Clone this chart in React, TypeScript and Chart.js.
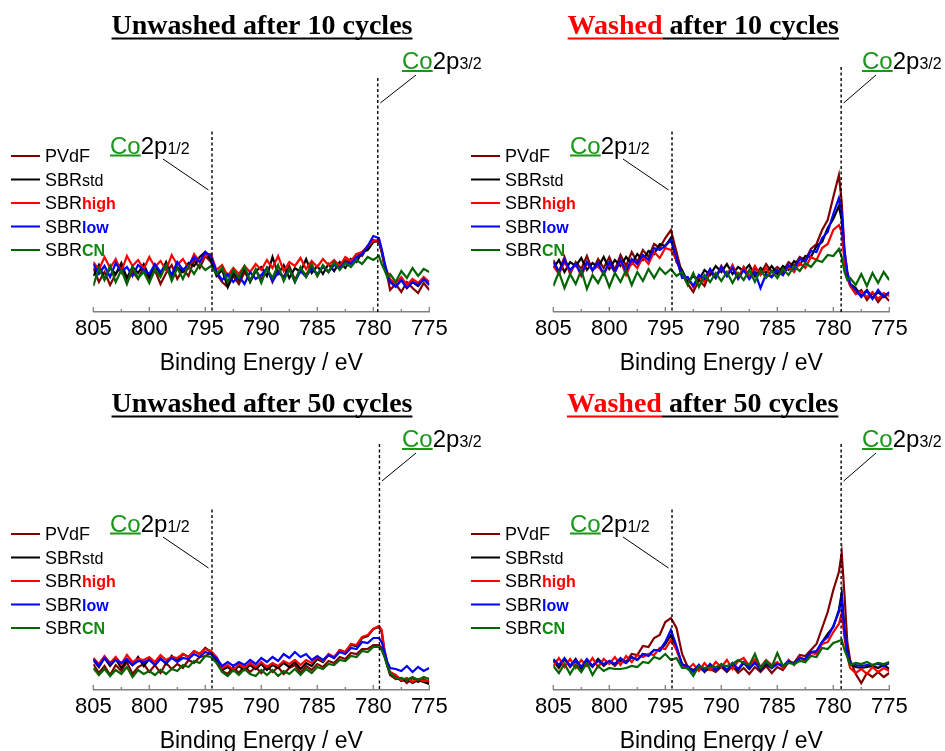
import React, { useEffect, useRef } from 'react';
import { Chart, registerables } from 'chart.js';

Chart.register(...registerables);

// ---------- data ----------
const ENERGY = [
  805, 804.5, 804, 803.5, 803, 802.5, 802, 801.5, 801, 800.5,
  800, 799.5, 799, 798.5, 798, 797.5, 797, 796.5, 796, 795.5,
  795, 794.5, 794, 793.5, 793, 792.5, 792, 791.5, 791, 790.5,
  790, 789.5, 789, 788.5, 788, 787.5, 787, 786.5, 786, 785.5,
  785, 784.5, 784, 783.5, 783, 782.5, 782, 781.5, 781, 780.5,
  780, 779.5, 779.25, 779, 778.75, 778.5, 778, 777.5, 777, 776.5, 776, 775.5, 775,
];

const X_TICKS = [805, 800, 795, 790, 785, 780, 775];
const TICK_MARKS = [805, 802.5, 800, 797.5, 795, 792.5, 790, 787.5, 785, 782.5, 780, 777.5, 775];

const SERIES_NAMES = ['PVdF', 'SBRstd', 'SBRhigh', 'SBRlow', 'SBRCN'];
const LEGEND_MAIN = ['PVdF', 'SBR', 'SBR', 'SBR', 'SBR'];
const LEGEND_SUFFIX = ['', 'std', 'high', 'low', 'CN'];

// Unwashed after 10 cycles
const TL_PVDF = [
  44, 30, 40, 27, 38, 46, 29, 41, 33, 45,
  31, 42, 28, 39, 47, 33, 43, 36, 52, 44,
  56, 50, 38, 30, 25, 36, 28, 40, 31, 42,
  33, 44, 30, 41, 35, 46, 32, 43, 37, 47,
  36, 46, 40, 50, 44, 52, 49, 58, 56, 66,
  72, 70, 60, 48, 36, 22, 28, 20, 30, 24, 19, 29, 22,
];
const TL_STD = [
  36, 47, 33, 44, 38, 49, 34, 45, 39, 48,
  35, 46, 38, 50, 36, 45, 40, 49, 46, 55,
  60, 52, 36, 42, 25, 39, 32, 44, 30, 41,
  45, 36, 55, 38, 47, 34, 44, 40, 53, 39,
  46, 38, 48, 41, 50, 44, 53, 50, 60, 62,
  70, 71, 60, 46, 38, 31, 26, 32, 24, 30, 26, 33, 27,
];
const TL_HIGH = [
  50, 42, 55, 44, 53, 40, 56, 46, 52, 43,
  55, 45, 51, 42, 57, 47, 53, 44, 58, 50,
  56, 58, 42, 47, 36, 44, 38, 46, 40, 48,
  42, 52, 44, 56, 41, 50, 46, 54, 43, 51,
  45, 53, 47, 52, 46, 55, 51, 58, 60, 66,
  71, 72, 62, 48, 40, 33, 28, 35, 27, 33, 29, 35, 30,
];
const TL_LOW = [
  48, 38, 46, 35, 49, 40, 45, 36, 47, 42,
  38, 48, 40, 46, 37, 50, 42, 47, 55, 50,
  60, 56, 40, 32, 38, 30, 36, 28, 40, 33,
  37, 44, 31, 40, 34, 43, 30, 41, 35, 44,
  38, 45, 40, 47, 44, 50, 48, 55, 58, 66,
  76, 74, 63, 50, 38, 30, 25, 32, 24, 30, 27, 33, 28,
];
const TL_CN = [
  26, 44, 32, 46, 30, 42, 28, 45, 34, 40,
  29, 43, 35, 47, 31, 44, 33, 46, 38, 48,
  42, 46, 38, 44, 30, 42, 34, 46, 31, 43,
  29, 44, 34, 47, 31, 43, 30, 45, 35, 48,
  36, 47, 40, 50, 42, 49, 45, 52, 48, 55,
  52, 56, 48, 42, 35, 38, 30, 41, 34, 44, 36, 43, 40,
];

// Washed after 10 cycles
const TR_PVDF = [
  52, 40, 55, 38, 50, 43, 56, 41, 53, 44,
  55, 42, 57, 46, 60, 50, 62, 55, 68, 64,
  74, 82, 60, 38, 28, 20, 32, 26, 40, 34,
  46, 36, 47, 34, 45, 35, 44, 38, 48, 40,
  45, 40, 50, 46, 55, 52, 63, 68, 82, 92,
  115, 137, 110, 62, 40, 28, 18, 22, 12, 19, 10, 17, 11,
];
const TR_STD = [
  44, 52, 40, 50, 46, 54, 42, 49, 45, 55,
  43, 52, 46, 55, 48, 58, 52, 61, 58, 68,
  66, 74, 50, 42, 30, 36, 32, 42, 37, 46,
  40, 48, 38, 45, 41, 47, 36, 44, 39, 46,
  38, 46, 42, 51, 47, 56, 55, 66, 70, 84,
  93, 106, 92, 56, 36, 28, 24, 16, 22, 14, 20, 15, 19,
];
const TR_HIGH = [
  46, 38, 50, 40, 48, 36, 49, 42, 46, 38,
  48, 40, 51, 37, 50, 44, 55, 48, 60, 54,
  64, 62, 52, 36, 34, 25, 36, 30, 42, 36,
  44, 36, 46, 34, 45, 36, 46, 37, 44, 35,
  42, 37, 45, 40, 49, 44, 55, 52, 64, 68,
  82, 87, 80, 50, 34, 26, 18, 20, 15, 20, 13, 19, 16,
];
const TR_LOW = [
  50, 40, 52, 42, 48, 38, 50, 42, 49, 38,
  50, 40, 52, 41, 53, 48, 57, 52, 64, 62,
  66, 72, 54, 34, 35, 26, 37, 33, 43, 34,
  45, 36, 44, 33, 42, 33, 40, 24, 38, 35,
  42, 37, 47, 43, 53, 50, 61, 60, 74, 80,
  98, 114, 100, 60, 40, 28, 22, 15, 21, 13, 22, 15, 20,
];
const TR_CN = [
  26, 40, 24, 38, 28, 42, 23, 37, 29, 40,
  25, 39, 30, 42, 27, 40, 31, 43, 34, 44,
  38, 43, 36, 40, 27, 39, 25, 37, 30, 39,
  31, 40, 29, 39, 32, 42, 30, 42, 34, 41,
  34, 43, 37, 46, 41, 49, 45, 52, 50, 57,
  56, 63, 55, 40, 32, 34, 27, 38, 26, 39, 29, 40, 32,
];

// Unwashed after 50 cycles
const BL_PVDF = [
  26, 17, 24, 15, 25, 19, 28, 16, 23, 26,
  18, 25, 17, 27, 21, 26, 22, 30, 27, 33,
  34, 37, 28, 19, 16, 23, 17, 24, 18, 23,
  17, 24, 18, 23, 16, 22, 25, 17, 24, 20,
  26, 23, 29, 27, 33, 31, 37, 36, 41, 41,
  45, 45, 42, 34, 24, 15, 11, 12, 7, 12, 8, 11, 7,
];
const BL_STD = [
  30, 23, 32, 24, 31, 22, 30, 25, 33, 24,
  31, 25, 32, 26, 34, 29, 36, 33, 39, 36,
  42, 38, 30, 20, 23, 19, 24, 20, 25, 21,
  26, 20, 25, 22, 27, 23, 28, 21, 27, 24,
  31, 28, 35, 32, 40, 38, 45, 44, 52, 54,
  61, 63, 58, 38, 26, 16, 14, 9, 11, 7, 10, 8, 6,
];
const BL_HIGH = [
  32, 26, 34, 27, 33, 26, 35, 28, 31, 30,
  33, 28, 35, 30, 33, 32, 36, 33, 39, 36,
  41, 39, 33, 22, 25, 20, 26, 22, 27, 23,
  28, 23, 27, 24, 29, 26, 30, 25, 30, 27,
  33, 29, 36, 33, 40, 38, 46, 45, 53, 55,
  61, 64, 60, 40, 27, 18, 15, 10, 12, 8, 11, 9, 10,
];
const BL_LOW = [
  31, 24, 32, 26, 30, 27, 31, 25, 29, 28,
  30, 25, 31, 27, 32, 28, 32, 31, 36, 33,
  38, 36, 32, 24, 28, 24, 28, 25, 30, 26,
  32, 28, 33, 29, 36, 32, 38, 33, 36, 30,
  34, 30, 35, 32, 38, 36, 42, 41, 48, 47,
  52, 52, 48, 38, 28, 22, 21, 19, 24, 18, 23, 19, 22,
];
const BL_CN = [
  22, 15, 21, 14, 20, 16, 23, 13, 20, 16,
  19, 15, 20, 16, 21, 19, 25, 23, 29, 27,
  34, 33, 27, 18, 14, 20, 15, 21, 16, 14,
  20, 15, 20, 14, 19, 16, 21, 15, 21, 17,
  23, 21, 26, 25, 30, 29, 34, 33, 39, 38,
  43, 43, 40, 33, 24, 17, 12, 12, 10, 13, 10, 13, 11,
];

// Washed after 50 cycles
const BR_PVDF = [
  29, 22, 31, 23, 29, 21, 28, 23, 30, 24,
  29, 24, 31, 28, 36, 35, 44, 43, 52, 55,
  68, 72, 62, 36, 23, 20, 22, 19, 21, 18,
  23, 18, 24, 17, 22, 16, 23, 18, 24, 17,
  23, 20, 28, 27, 35, 34, 40, 46, 62, 78,
  100, 118, 137, 95, 48, 30, 16, 7, 17, 13, 18, 13, 17,
];
const BR_STD = [
  30, 23, 31, 24, 31, 22, 30, 24, 31, 25,
  28, 26, 29, 27, 33, 30, 36, 35, 40, 39,
  46, 55, 42, 26, 23, 19, 25, 18, 25, 20,
  25, 19, 26, 20, 27, 21, 28, 20, 26, 22,
  27, 24, 28, 27, 32, 30, 38, 38, 48, 56,
  63, 80, 97, 60, 38, 26, 23, 22, 23, 24, 22, 25, 21,
];
const BR_HIGH = [
  24, 32, 23, 31, 22, 30, 24, 32, 23, 31,
  26, 33, 25, 34, 28, 35, 33, 36, 35, 42,
  41, 50, 40, 25, 21, 26, 19, 27, 20, 28,
  23, 30, 21, 29, 32, 24, 31, 23, 30, 25,
  28, 22, 30, 25, 33, 28, 37, 36, 46, 48,
  58, 66, 77, 52, 34, 22, 17, 21, 16, 23, 18, 22, 19,
];
const BR_LOW = [
  31, 25, 32, 24, 30, 23, 31, 24, 29, 26,
  29, 26, 32, 27, 33, 30, 36, 34, 40, 40,
  48, 60, 44, 25, 24, 18, 25, 19, 26, 20,
  26, 20, 27, 21, 28, 22, 27, 21, 28, 22,
  26, 24, 29, 26, 32, 31, 38, 39, 48, 53,
  64, 78, 92, 58, 38, 26, 25, 24, 25, 25, 26, 24, 27,
];
const BR_CN = [
  24, 17, 26, 16, 25, 18, 27, 15, 24, 19,
  22, 21, 21, 22, 24, 23, 28, 27, 33, 31,
  36, 30, 32, 22, 22, 14, 24, 22, 23, 23,
  25, 24, 26, 30, 27, 25, 36, 22, 29, 23,
  37, 24, 27, 26, 29, 28, 34, 33, 42, 41,
  47, 49, 50, 40, 33, 25, 27, 26, 28, 25, 27, 26, 28,
];

// peak marker energies (eV)
const PEAK_12 = [794.4, 794.4, 794.4, 794.4];
const PEAK_32 = [779.6, 779.3, 779.45, 779.3];

// ---------- styles ----------
const SANS = '"Liberation Sans", Arial, sans-serif';
const SERIF = '"Liberation Serif", "Times New Roman", serif';
const SERIES_COLORS = ['#800000', '#000000', '#ff0000', '#0000ff', '#006400'];
const SUFFIX_COLORS = ['#000000', '#000000', '#ff0000', '#0000ff', '#0f8a0f'];
const DRAW_ORDER = [4, 3, 2, 1, 0];
const CO_GREEN = '#1a961a';
const PANEL_H = 378;
const AXIS_Y = 312;
const PLOT_LEFT = 93.3;
const PLOT_RIGHT = 429.3;

type Part = { t: string; c: string };
type PanelCfg = {
  key: string;
  left: number;
  top: number;
  width: number;
  title: Part[];
  titleX: number;
  series: number[][];
  p12: number;
  p32: number;
  p32Top: number;
};

const PANELS: PanelCfg[] = [
  {
    key: 'tl', left: 0, top: 0, width: 490, titleX: 262,
    title: [{ t: 'Unwashed after 10 cycles', c: '#000' }],
    series: [TL_PVDF, TL_STD, TL_HIGH, TL_LOW, TL_CN],
    p12: PEAK_12[0], p32: PEAK_32[0], p32Top: 78,
  },
  {
    key: 'tr', left: 460, top: 0, width: 485, titleX: 243.3,
    title: [{ t: 'Washed', c: '#ff0000' }, { t: ' after 10 cycles', c: '#000' }],
    series: [TR_PVDF, TR_STD, TR_HIGH, TR_LOW, TR_CN],
    p12: PEAK_12[1], p32: PEAK_32[1], p32Top: 67,
  },
  {
    key: 'bl', left: 0, top: 378, width: 490, titleX: 262,
    title: [{ t: 'Unwashed after 50 cycles', c: '#000' }],
    series: [BL_PVDF, BL_STD, BL_HIGH, BL_LOW, BL_CN],
    p12: PEAK_12[2], p32: PEAK_32[2], p32Top: 66,
  },
  {
    key: 'br', left: 460, top: 378, width: 485, titleX: 242.7,
    title: [{ t: 'Washed', c: '#ff0000' }, { t: ' after 50 cycles', c: '#000' }],
    series: [BR_PVDF, BR_STD, BR_HIGH, BR_LOW, BR_CN],
    p12: PEAK_12[3], p32: PEAK_32[3], p32Top: 66,
  },
];

function drawCoLabel(ctx: CanvasRenderingContext2D, x: number, baseline: number, frac: string) {
  ctx.textBaseline = 'alphabetic';
  ctx.textAlign = 'left';
  ctx.font = `24px ${SANS}`;
  ctx.fillStyle = CO_GREEN;
  ctx.fillText('Co', x, baseline);
  const wCo = ctx.measureText('Co').width;
  ctx.fillRect(x, baseline + 1, wCo, 2);
  ctx.fillStyle = '#000';
  ctx.fillText('2p', x + wCo, baseline);
  const w2p = ctx.measureText('2p').width;
  ctx.font = `16px ${SANS}`;
  ctx.fillText(frac, x + wCo + w2p, baseline);
}

function makeDecor(cfg: PanelCfg) {
  return {
    id: 'decor_' + cfg.key,
    afterDraw(chart: any) {
      const { ctx, scales } = chart;
      const xs = scales.x;
      const base = scales.y.getPixelForValue(0);
      ctx.save();

      // inward tick marks
      ctx.strokeStyle = '#808080';
      ctx.lineWidth = 1.3;
      TICK_MARKS.forEach((v: number, i: number) => {
        const px = xs.getPixelForValue(v);
        const len = i % 2 === 0 ? 5 : 3;
        ctx.beginPath();
        ctx.moveTo(px, base);
        ctx.lineTo(px, base - len);
        ctx.stroke();
      });

      // title
      ctx.font = `bold 28px ${SERIF}`;
      ctx.textBaseline = 'alphabetic';
      ctx.textAlign = 'left';
      const total = cfg.title.reduce((s, p) => s + ctx.measureText(p.t).width, 0);
      let tx = cfg.titleX - total / 2;
      cfg.title.forEach((p) => {
        const w = ctx.measureText(p.t).width;
        ctx.fillStyle = p.c;
        ctx.fillText(p.t, tx, 34);
        ctx.fillRect(tx, 37.5, w, 2);
        tx += w;
      });

      // dashed peak markers
      const x12 = xs.getPixelForValue(cfg.p12);
      const x32 = xs.getPixelForValue(cfg.p32);
      ctx.strokeStyle = '#000';
      ctx.lineWidth = 1.4;
      ctx.setLineDash([3, 2.5]);
      ctx.beginPath();
      ctx.moveTo(x12, 131.5);
      ctx.lineTo(x12, base);
      ctx.moveTo(x32, cfg.p32Top);
      ctx.lineTo(x32, base);
      ctx.stroke();
      ctx.setLineDash([]);

      // leader lines
      ctx.lineWidth = 1;
      ctx.beginPath();
      ctx.moveTo(163, 159);
      ctx.lineTo(x12 - 3.5, 190);
      ctx.moveTo(416, 75);
      ctx.lineTo(x32 + 2.5, 103);
      ctx.stroke();

      // peak labels
      drawCoLabel(ctx, 110, 153.5, '1/2');
      drawCoLabel(ctx, 402, 69, '3/2');

      // legend
      const rows = [156, 179.5, 203, 226.5, 250];
      rows.forEach((ry, k) => {
        ctx.strokeStyle = SERIES_COLORS[k];
        ctx.lineWidth = 2;
        ctx.beginPath();
        ctx.moveTo(11, ry);
        ctx.lineTo(40, ry);
        ctx.stroke();
        ctx.font = `18px ${SANS}`;
        ctx.fillStyle = '#000';
        ctx.fillText(LEGEND_MAIN[k], 45, ry + 6);
        const w = ctx.measureText(LEGEND_MAIN[k]).width;
        if (LEGEND_SUFFIX[k]) {
          ctx.font = (k === 1 ? '' : 'bold ') + `16px ${SANS}`;
          ctx.fillStyle = SUFFIX_COLORS[k];
          ctx.fillText(LEGEND_SUFFIX[k], 45 + w, ry + 6);
        }
      });

      ctx.restore();
    },
  };
}

function Panel({ cfg }: { cfg: PanelCfg }) {
  const ref = useRef<HTMLCanvasElement>(null);
  useEffect(() => {
    const canvas = ref.current;
    if (!canvas) return;
    const datasets = SERIES_NAMES.map((name, k) => ({
      label: name,
      data: ENERGY.map((e, i) => ({ x: e, y: cfg.series[k][i] })),
      borderColor: SERIES_COLORS[k],
      backgroundColor: SERIES_COLORS[k],
      borderWidth: 2.2,
      pointRadius: 0,
      tension: 0,
      fill: false,
      order: DRAW_ORDER[k],
    }));
    const chart = new Chart(canvas, {
      type: 'line',
      data: { datasets } as any,
      options: {
        animation: false,
        responsive: false,
        events: [],
        layout: {
          padding: { left: PLOT_LEFT, right: cfg.width - PLOT_RIGHT, top: AXIS_Y - 260, bottom: 0 },
        },
        plugins: { legend: { display: false }, tooltip: { enabled: false } },
        scales: {
          x: {
            type: 'linear',
            min: 775,
            max: 805,
            reverse: true,
            afterBuildTicks: (s: any) => {
              s.ticks = X_TICKS.map((v) => ({ value: v }));
            },
            afterFit: (s: any) => {
              s.height = PANEL_H - AXIS_Y;
            },
            grid: { display: false, drawTicks: false },
            border: { display: true, color: '#808080', width: 1.5 },
            ticks: {
              color: '#000',
              font: { family: SANS, size: 22 },
              padding: 4,
              maxRotation: 0,
              autoSkip: false,
            },
            title: {
              display: true,
              text: 'Binding Energy / eV',
              color: '#000',
              font: { family: SANS, size: 23 },
              padding: { top: 0, bottom: 1 },
            },
          },
          y: { display: false, min: 0, max: 260 },
        },
      } as any,
      plugins: [makeDecor(cfg)],
    });
    return () => chart.destroy();
  }, [cfg]);
  return (
    <canvas
      ref={ref}
      width={cfg.width}
      height={PANEL_H}
      style={{ position: 'absolute', left: cfg.left, top: cfg.top, width: cfg.width, height: PANEL_H }}
    />
  );
}

export default function App() {
  return (
    <div
      style={{
        position: 'absolute',
        left: 0,
        top: 0,
        width: 945,
        height: 751,
        overflow: 'hidden',
        background: '#fff',
      }}
    >
      {PANELS.map((p) => (
        <Panel key={p.key} cfg={p} />
      ))}
    </div>
  );
}
